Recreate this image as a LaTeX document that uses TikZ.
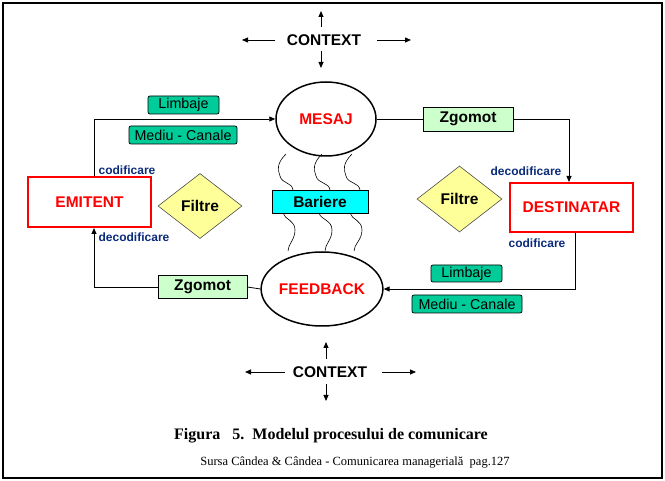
\documentclass[tikz,border=0pt]{standalone}
\usepackage{fontspec}
\setmainfont{Liberation Serif}
\newfontfamily\arial{Liberation Sans}
\usetikzlibrary{arrows.meta,shapes.geometric}
\definecolor{tealbox}{HTML}{00CC99}
\definecolor{lightgreen}{HTML}{CCFFCC}
\definecolor{paleyellow}{HTML}{FFFF99}
\definecolor{barcyan}{HTML}{00FFFF}
\definecolor{navylabel}{HTML}{0A2A7A}
\tikzset{
  arr/.style={-{Triangle[length=6pt,width=5pt]}, line width=0.8pt},
  plain/.style={line width=0.8pt},
  ell/.style={ellipse, draw, line width=1.5pt, inner sep=0pt, text=red,
    font=\arial\bfseries\fontsize{15.5}{18}\selectfont},
  actor/.style={rectangle, draw=red, line width=2pt, inner sep=0pt, text=red,
    font=\arial\bfseries\fontsize{15.5}{18}\selectfont},
  tealtag/.style={rectangle, rounded corners=2pt, draw, line width=0.7pt, fill=tealbox,
    inner sep=0pt, font=\arial\fontsize{14.3}{16}\selectfont},
  noisebox/.style={rectangle, draw, line width=0.8pt, fill=lightgreen, inner sep=0pt,
    font=\arial\bfseries\fontsize{15.5}{18}\selectfont},
  filterbox/.style={diamond, draw=black!70, line width=0.6pt, fill=paleyellow, inner sep=0pt,
    font=\arial\bfseries\fontsize{15.5}{18}\selectfont},
  ctx/.style={font=\arial\bfseries\fontsize{15.5}{18}\selectfont, inner sep=0pt},
  codelabel/.style={font=\arial\bfseries\fontsize{12}{14}\selectfont, text=navylabel, inner sep=0pt},
  wave/.style={line width=0.6pt},
}
\begin{document}
\begin{tikzpicture}[x=1pt,y=-1pt]
\useasboundingbox (0,0) rectangle (665,481);
\draw[line width=1.2pt] (3,3) rectangle (662,478);

% top context
\node[ctx] (ctxtop) at (324,40) {CONTEXT};
\coordinate (ct1) at (321,27); \coordinate (ct2) at (321,11);
\coordinate (ct3) at (321,51); \coordinate (ct4) at (321,68);
\coordinate (ct5) at (275,40); \coordinate (ct6) at (242,40);
\coordinate (ct7) at (377,40); \coordinate (ct8) at (411,40);
\draw[arr] (ct1) -- (ct2);
\draw[arr] (ct3) -- (ct4);
\draw[arr] (ct5) -- (ct6);
\draw[arr] (ct7) -- (ct8);

% bottom context
\node[ctx] (ctxbot) at (330,372) {CONTEXT};
\coordinate (cb1) at (326,359); \coordinate (cb2) at (326,342);
\coordinate (cb3) at (326,384); \coordinate (cb4) at (326,401);
\coordinate (cb5) at (285,372); \coordinate (cb6) at (245,372);
\coordinate (cb7) at (382,372); \coordinate (cb8) at (416,372);
\draw[arr] (cb1) -- (cb2);
\draw[arr] (cb3) -- (cb4);
\draw[arr] (cb5) -- (cb6);
\draw[arr] (cb7) -- (cb8);

% main nodes
\node[ell, minimum width=100, minimum height=74] (mesaj) at (326,119) {MESAJ};
\node[ell, minimum width=110, minimum height=74] (feed) at (322,289) {FEEDBACK};
\node[actor, minimum width=123, minimum height=50] (emit) at (89.5,202) {EMITENT};
\node[actor, minimum width=123, minimum height=49] (dest) at (571.5,207.5) {DESTINATAR};
\node[rectangle, draw, line width=0.8pt, fill=barcyan, inner sep=0pt, minimum width=96, minimum height=23,
  font=\arial\bfseries\fontsize{15.5}{18}\selectfont] (bar) at (320,201.5) {Bariere};
\node[filterbox, minimum width=84, minimum height=65] (filt1) at (200,206) {Filtre};
\node[filterbox, minimum width=85, minimum height=66] (filt2) at (459.5,199) {Filtre};

% tags
\node[tealtag, minimum width=71, minimum height=18] (limb1) at (183.5,105) {Limbaje};
\node[tealtag, minimum width=108, minimum height=18] (med1) at (183,135) {Mediu - Canale};
\node[tealtag, minimum width=71, minimum height=17] (limb2) at (466.5,273.5) {Limbaje};
\node[tealtag, minimum width=110, minimum height=18] (med2) at (467,304) {Mediu - Canale};
\node[noisebox, minimum width=90, minimum height=24] (zg1) at (468,119) {Zgomot};
\node[noisebox, minimum width=89, minimum height=23] (zg2) at (202.5,287) {Zgomot};

% code labels
\node[codelabel] (cod1) at (127,170) {codificare};
\node[codelabel] (dec1) at (134,237) {decodificare};
\node[codelabel] (dec2) at (526,171) {decodificare};
\node[codelabel] (cod2) at (537,243) {codificare};

% connectors
\coordinate (xl) at (94,0);
\coordinate (xr1) at (569,0);
\coordinate (xr2) at (575,0);
\draw[arr] (emit.north -| xl) |- (mesaj.west);
\draw[plain] (mesaj.east) -- (zg1.west);
\draw[arr] (zg1.east) -| (dest.north -| xr1);
\draw[arr] (dest.south -| xr2) |- (feed.east);
\draw[plain] (feed.west) -- (zg2.east);
\draw[arr] (zg2.west) -| (emit.south -| xl);

% barrier waves above
\draw[wave] (286,154) .. controls (276,164) and (278,170) .. (280,176) .. controls (282,184) and (292,182) .. (293,190);
\draw[wave] (322,154) .. controls (312,164) and (314,170) .. (316,176) .. controls (318,184) and (329,182) .. (330,190);
\draw[wave] (352,154) .. controls (342,164) and (344,170) .. (346,176) .. controls (348,184) and (359,182) .. (360,190);
% barrier waves below
\draw[wave] (283,213) .. controls (285,220) and (295,220) .. (295,230) .. controls (295,240) and (288,244) .. (288,251);
\draw[wave] (319,213) .. controls (321,220) and (332,220) .. (332,230) .. controls (332,240) and (325,244) .. (325,251);
\draw[wave] (350,213) .. controls (352,220) and (362,220) .. (362,230) .. controls (362,240) and (354,244) .. (354,251);

% caption
\node[font=\bfseries\fontsize{16}{19}\selectfont, inner sep=0pt] (cap) at (331,436)
  {Figura~~~5.~~Modelul procesului de comunicare};
\node[font=\fontsize{12.5}{15}\selectfont, inner sep=0pt] (src) at (355,462)
  {Sursa Cândea \& Cândea - Comunicarea managerială~~pag.127};
\end{tikzpicture}
\end{document}
